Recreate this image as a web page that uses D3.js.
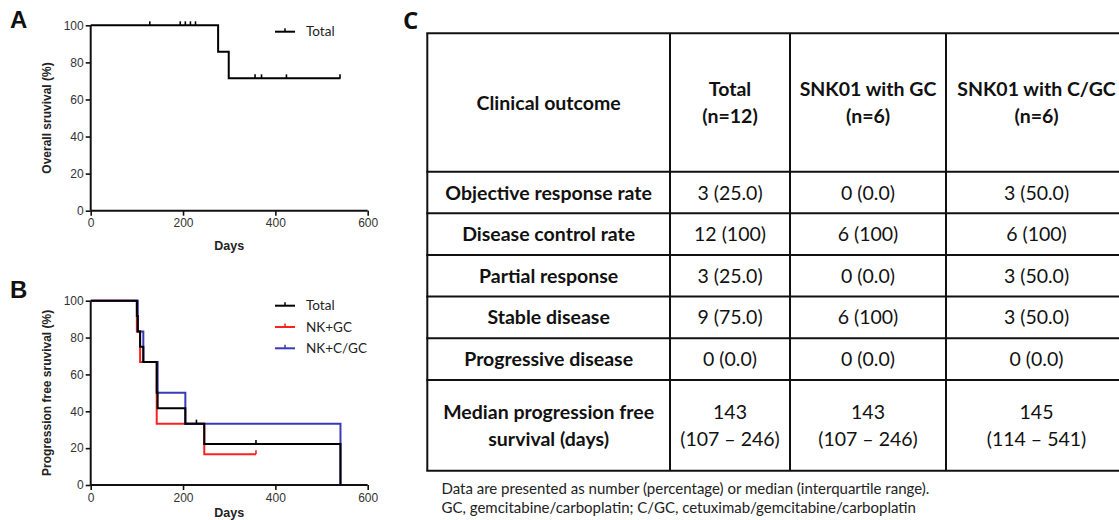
<!DOCTYPE html>
<html><head><meta charset="utf-8">
<script src="https://cdn.jsdelivr.net/npm/d3@7"></script>
<style>
html,body{margin:0;padding:0;background:#fff;}
svg{display:block;}
</style></head>
<body>
<svg id="c" width="1119" height="520"></svg>
<script>
// ---------------- DATA ----------------
// Panel A: overall survival (Total)
const osTimes = [0, 276, 299];
const osSurv = [100, 85.7, 71.4];
const osEnd = 541;
const osCensor = [128, 194, 205, 216, 227, 356, 370, 424, 540];

// Panel B: progression free survival
const pfsTotalTimes = [0, 100, 102, 107, 114, 143, 145, 205, 246, 541];
const pfsTotalSurv = [100, 91.7, 83.3, 75, 66.7, 50, 41.7, 33.3, 22.2, 0];
const pfsTotalEnd = 541;
const pfsTotalCensor = [229, 358];

const pfsGCTimes = [0, 100, 107, 143, 246];
const pfsGCSurv = [100, 83.3, 66.7, 33.3, 16.7];
const pfsGCEnd = 358;
const pfsGCCensor = [358];

const pfsCGCTimes = [0, 102, 114, 145, 205, 541];
const pfsCGCSurv = [100, 83.3, 66.7, 50, 33.3, 0];
const pfsCGCEnd = 541;
const pfsCGCCensor = [];

const seriesNamesB = ["Total", "NK+GC", "NK+C/GC"];
const seriesColorsB = ["#000000", "#ff2020", "#3a3ab8"];

const xTicks = [0, 200, 400, 600];
const yTicks = [0, 20, 40, 60, 80, 100];

// Panel C: table
const tableHeaders = [["Clinical outcome"], ["Total", "(n=12)"], ["SNK01 with GC", "(n=6)"], ["SNK01 with C/GC", "(n=6)"]];
const outcomes = [["Objective response rate"], ["Disease control rate"], ["Partial response"], ["Stable disease"], ["Progressive disease"], ["Median progression free", "survival (days)"]];
const totalCol = [["3 (25.0)"], ["12 (100)"], ["3 (25.0)"], ["9 (75.0)"], ["0 (0.0)"], ["143", "(107 \u2013 246)"]];
const gcCol = [["0 (0.0)"], ["6 (100)"], ["0 (0.0)"], ["6 (100)"], ["0 (0.0)"], ["143", "(107 \u2013 246)"]];
const cgcCol = [["3 (50.0)"], ["6 (100)"], ["3 (50.0)"], ["3 (50.0)"], ["0 (0.0)"], ["145", "(114 \u2013 541)"]];
const footnotes = ["Data are presented as number (percentage) or median (interquartile range).",
  "GC, gemcitabine/carboplatin; C/GC, cetuximab/gemcitabine/carboplatin"];

// ---------------- DRAW ----------------
const svg = d3.select("#c");
const axFont = "'Liberation Sans', Arial, sans-serif";
const tabFont = "Lato, 'Open Sans', sans-serif";

function kmPanel(g, top, bottom, yTitle, series, legendY0, daysY) {
  const x = d3.scaleLinear().domain([0, 600]).range([90.7, 367.7]);
  const y = d3.scaleLinear().domain([0, 100]).range([bottom, top]);
  const xa = g.append("g").attr("transform", `translate(0,${bottom})`)
    .call(d3.axisBottom(x).tickValues(xTicks).tickSize(5).tickPadding(3).tickFormat(d3.format("d")));
  const ya = g.append("g").attr("transform", `translate(${x(0)},0)`)
    .call(d3.axisLeft(y).tickValues(yTicks).tickSize(5).tickPadding(2).tickFormat(d3.format("d")));
  [xa, ya].forEach(a => {
    a.select(".domain").attr("stroke", "#111").attr("stroke-width", 2);
    a.selectAll(".tick line").attr("stroke", "#111").attr("stroke-width", 1.6);
    a.selectAll(".tick text").attr("fill", "#333").style("font-family", axFont).style("font-size", "12px");
  });
  xa.select(".domain").attr("d", `M${x(0)},0H${x(600)}`);
  ya.select(".domain").attr("d", `M0,${y(0)}V${y(100)}`);
  g.append("text").attr("x", (x(0) + x(600)) / 2).attr("y", daysY)
    .attr("text-anchor", "middle").style("font-family", axFont).style("font-weight", "bold")
    .style("font-size", "12.5px").attr("fill", "#222").text("Days");
  g.append("text").attr("transform", `translate(51,${(top + bottom) / 2}) rotate(-90)`)
    .attr("text-anchor", "middle").style("font-family", axFont).style("font-weight", "bold")
    .style("font-size", "12px").attr("fill", "#222").text(yTitle);
  const line = d3.line().x(d => x(d[0])).y(d => y(d[1])).curve(d3.curveStepAfter);
  series.forEach(s => {
    const pts = s.times.map((t, i) => [t, s.surv[i]]);
    pts.push([s.end, s.surv[s.surv.length - 1]]);
    g.append("path").attr("d", line(pts)).attr("fill", "none")
      .attr("stroke", s.color).attr("stroke-width", 2);
  });
  series.forEach(s => {
    s.censor.forEach(c => {
      let v = s.surv[0];
      s.times.forEach((t, i) => { if (t <= c) v = s.surv[i]; });
      g.append("line").attr("x1", x(c)).attr("x2", x(c)).attr("y1", y(v)).attr("y2", y(v) - 4)
        .attr("stroke", s.color).attr("stroke-width", 1.6);
    });
  });
  // legend, in the given legend order
  const leg = series.slice().sort((a, b) => a.legend - b.legend);
  leg.forEach((s, i) => {
    const ly = legendY0 + i * 21.3;
    g.append("line").attr("x1", 275).attr("x2", 295).attr("y1", ly).attr("y2", ly)
      .attr("stroke", s.color).attr("stroke-width", 2);
    g.append("line").attr("x1", 285).attr("x2", 285).attr("y1", ly).attr("y2", ly - 3.5)
      .attr("stroke", s.color).attr("stroke-width", 1.5);
    g.append("text").attr("x", 306).attr("y", ly + 4.7).style("font-family", tabFont)
      .style("font-size", "13.5px").attr("fill", "#222").text(s.name);
  });
}

// Panel A
kmPanel(svg.append("g"), 25.3, 210.7, "Overall sruvival (%)",
  [{ name: "Total", times: osTimes, surv: osSurv, end: osEnd, censor: osCensor, color: "#000", legend: 0 }], 31.7, 250);
// Panel B (drawn red, blue, then black on top)
kmPanel(svg.append("g"), 300.7, 485, "Progression free sruvival (%)", [
  { name: seriesNamesB[1], times: pfsGCTimes, surv: pfsGCSurv, end: pfsGCEnd, censor: pfsGCCensor, color: seriesColorsB[1], legend: 1 },
  { name: seriesNamesB[2], times: pfsCGCTimes, surv: pfsCGCSurv, end: pfsCGCEnd, censor: pfsCGCCensor, color: seriesColorsB[2], legend: 2 },
  { name: seriesNamesB[0], times: pfsTotalTimes, surv: pfsTotalSurv, end: pfsTotalEnd, censor: pfsTotalCensor, color: seriesColorsB[0], legend: 0 }
], 305.7, 517);

// panel letters
[["A", 10, 28, axFont], ["B", 10, 298, axFont], ["C", 403, 29, "'Open Sans', sans-serif"]].forEach(l => {
  svg.append("text").attr("x", l[1]).attr("y", l[2]).style("font-family", l[3]).style("font-weight", "bold")
    .style("font-size", "24px").attr("fill", "#111").text(l[0]);
});

// Panel C table
const colEdges = [427.3, 670, 790, 946, 1127];
const rowEdges = [33.3, 171.7, 213.3, 255, 296.5, 338.3, 380, 470.7];
const gC = svg.append("g");
const fs = 19.5, lh = 26.7;
function cellText(lines, cx, cy, bold) {
  const n = lines.length;
  lines.forEach((t, i) => {
    gC.append("text").attr("x", cx).attr("y", cy + (i - (n - 1) / 2) * lh + fs * 0.36)
      .attr("text-anchor", "middle").style("font-family", tabFont).style("font-size", fs + "px")
      .style("font-weight", bold ? "bold" : "normal").attr("fill", "#111").text(t);
  });
}
tableHeaders.forEach((h, j) => cellText(h, (colEdges[j] + colEdges[j + 1]) / 2, (rowEdges[0] + rowEdges[1]) / 2, true));
const cols = [outcomes, totalCol, gcCol, cgcCol];
cols.forEach((col, j) => {
  col.forEach((v, i) => cellText(v, (colEdges[j] + colEdges[j + 1]) / 2, (rowEdges[i + 1] + rowEdges[i + 2]) / 2, j === 0));
});
rowEdges.forEach(yv => gC.append("line").attr("x1", colEdges[0] - 1).attr("x2", 1127).attr("y1", yv).attr("y2", yv)
  .attr("stroke", "#111").attr("stroke-width", 2));
colEdges.forEach(xv => gC.append("line").attr("x1", xv).attr("x2", xv).attr("y1", rowEdges[0]).attr("y2", rowEdges[rowEdges.length - 1])
  .attr("stroke", "#111").attr("stroke-width", 2));
footnotes.forEach((f, i) => gC.append("text").attr("x", 441.5).attr("y", 494 + i * 19.3)
  .style("font-family", tabFont).style("font-size", "15px").attr("fill", "#222").text(f));
</script>
</body></html>
